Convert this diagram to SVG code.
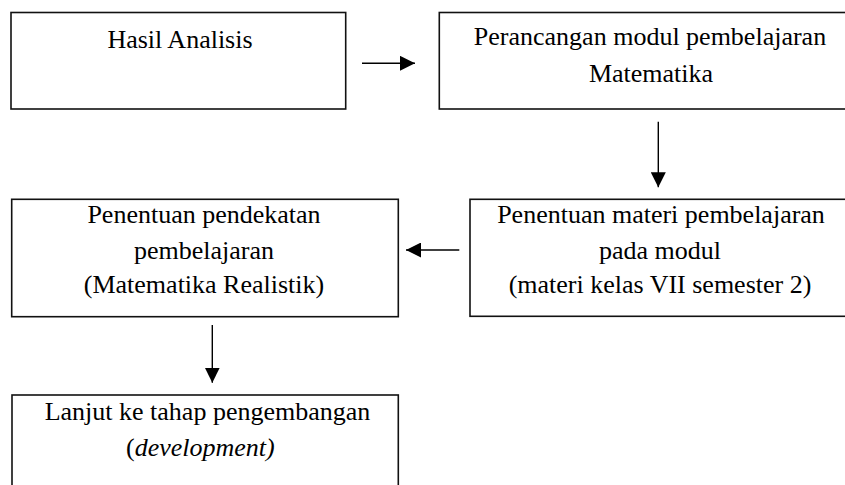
<svg xmlns="http://www.w3.org/2000/svg" width="845" height="485" viewBox="0 0 845 485">
<defs>
<marker id="ah" markerUnits="userSpaceOnUse" markerWidth="15" markerHeight="15" viewBox="0 0 14 14" refX="14" refY="7" orient="auto">
<path d="M0,0 L14,7 L0,14 Z" fill="#000"/>
</marker>
</defs>
<style>
rect.box{fill:#fff;stroke:#111;stroke-width:1.6}
.t{font-size:26px;fill:#000}
.c{text-anchor:middle}
line.conn{stroke:#000;stroke-width:1.4;marker-end:url(#ah)}
</style>
<rect width="845" height="485" fill="#fff"/>
<g font-family="'Liberation Serif', Tinos, 'Times New Roman', 'DejaVu Serif', serif">
<g id="node-hasil">
<rect class="box" x="11" y="12.5" width="334.7" height="96.5"/>
<text class="t c" x="180" y="47.5">Hasil Analisis</text>
</g>
<g id="node-perancangan">
<rect class="box" x="439.3" y="12.5" width="430" height="96.5"/>
<text class="t c" x="650" y="45">Perancangan modul pembelajaran</text>
<text class="t c" x="651" y="81.5">Matematika</text>
</g>
<g id="node-materi">
<rect class="box" x="470" y="199.3" width="400" height="117"/>
<text class="t c" x="661" y="223">Penentuan materi pembelajaran</text>
<text class="t c" x="660" y="259">pada modul</text>
<text class="t c" x="660" y="293">(materi kelas VII semester 2)</text>
</g>
<g id="node-pendekatan">
<rect class="box" x="11.7" y="199.3" width="386.6" height="117.4"/>
<text class="t c" x="204" y="223">Penentuan pendekatan</text>
<text class="t c" x="204" y="259">pembelajaran</text>
<text class="t c" x="204" y="293">(Matematika Realistik)</text>
</g>
<g id="node-lanjut">
<rect class="box" x="12" y="395" width="386.3" height="110"/>
<text class="t c" x="207.5" y="420">Lanjut ke tahap pengembangan</text>
<text class="t" x="126" y="456">(<tspan font-style="italic">development)</tspan></text>
</g>
</g>
<g id="connectors">
<line class="conn" x1="362" y1="63.3" x2="415" y2="63.3"/>
<line class="conn" x1="658.3" y1="121.7" x2="658.3" y2="187.3"/>
<line class="conn" x1="459.3" y1="250" x2="406" y2="250"/>
<line class="conn" x1="212.3" y1="325" x2="212.3" y2="382.7"/>
</g>
</svg>
